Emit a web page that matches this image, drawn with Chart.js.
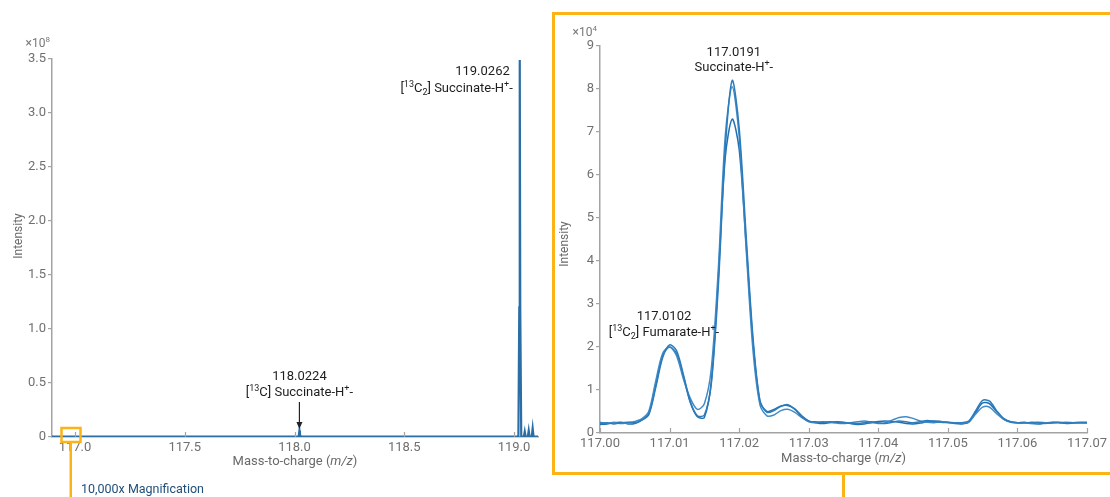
<!DOCTYPE html>
<html>
<head>
<meta charset="utf-8">
<script src="https://cdn.jsdelivr.net/npm/chart.js@4.4.1/dist/chart.umd.min.js"></script>
<style>
  html, body { margin: 0; padding: 0; background: #fff; }
  body { width: 1110px; height: 497px; position: relative; overflow: hidden; font-family: Roboto, "Noto Sans", sans-serif; }
  canvas { position: absolute; left: 0; top: 0; }
  #zoomBox { position: absolute; left: 552px; top: 12px; width: 640px; height: 457px; border: 3px solid #fbb316; }
  #zoomStem { position: absolute; left: 842px; top: 472px; width: 3px; height: 30px; background: #fbb316; }
</style>
</head>
<body>
<canvas id="overview" width="1110" height="497"></canvas>
<div id="zoomBox"></div>
<div id="zoomStem"></div>
<canvas id="detail" width="1110" height="497"></canvas>
<script>
// ---- Full spectrum (intensity in units of 1e8) ----
const overviewMz = [116.8952, 117.6, 117.99, 118.016, 118.0200, 118.0224, 118.0248, 118.029, 118.6,
  119.0200, 119.0240, 119.0262, 119.0284, 119.0330, 119.0450, 119.0490, 119.0530, 119.0630, 119.0670,
  119.0710, 119.0810, 119.0850, 119.0890, 119.0960, 119.1093];
const overviewIntensity = [0.004, 0.004, 0.004, 0.004, 0.02, 0.06, 0.02, 0.004, 0.004,
  0.004, 1.2, 3.49, 1.2, 0.004, 0.004, 0.05, 0.004, 0.004, 0.06,
  0.004, 0.004, 0.08, 0.004, 0.004, 0.004];
const overviewTicksX = [117.0, 117.5, 118.0, 118.5, 119.0];
const overviewTicksY = [0, 0.5, 1.0, 1.5, 2.0, 2.5, 3.0, 3.5];

// ---- 10,000x magnified window (intensity in units of 1e4), three overlaid scans ----
const detailMz = [117.000, 117.001, 117.002, 117.003, 117.004, 117.005, 117.006, 117.007, 117.008, 117.009,
  117.010, 117.011, 117.012, 117.013, 117.014, 117.015, 117.016, 117.017, 117.018, 117.019,
  117.020, 117.021, 117.022, 117.023, 117.024, 117.025, 117.026, 117.027, 117.028, 117.029,
  117.030, 117.031, 117.032, 117.033, 117.034, 117.035, 117.036, 117.037, 117.038, 117.039,
  117.040, 117.041, 117.042, 117.043, 117.044, 117.045, 117.046, 117.047, 117.048, 117.049,
  117.050, 117.051, 117.052, 117.053, 117.054, 117.055, 117.056, 117.057, 117.058, 117.059,
  117.060, 117.061, 117.062, 117.063, 117.064, 117.065, 117.066, 117.067, 117.068, 117.069,
  117.070];
const scanA = [0.22, 0.24, 0.21, 0.24, 0.25, 0.24, 0.30, 0.42, 1.05, 1.75,
  2.05, 1.92, 1.35, 0.72, 0.40, 0.42, 1.15, 3.40, 6.60, 8.20,
  7.10, 4.60, 2.20, 0.75, 0.48, 0.52, 0.62, 0.66, 0.55, 0.38,
  0.27, 0.26, 0.25, 0.26, 0.25, 0.24, 0.23, 0.22, 0.24, 0.26,
  0.24, 0.22, 0.25, 0.28, 0.26, 0.24, 0.26, 0.29, 0.27, 0.25,
  0.24, 0.23, 0.24, 0.28, 0.52, 0.76, 0.74, 0.52, 0.34, 0.26,
  0.24, 0.23, 0.25, 0.24, 0.22, 0.24, 0.25, 0.23, 0.24, 0.25,
  0.25];
const scanB = [0.25, 0.22, 0.25, 0.22, 0.24, 0.27, 0.33, 0.50, 1.20, 1.85,
  2.00, 1.80, 1.25, 0.80, 0.55, 0.68, 1.50, 3.80, 6.90, 8.05,
  6.90, 4.30, 1.90, 0.65, 0.40, 0.42, 0.52, 0.55, 0.48, 0.36,
  0.26, 0.24, 0.26, 0.25, 0.23, 0.22, 0.24, 0.26, 0.28, 0.25,
  0.22, 0.24, 0.30, 0.36, 0.38, 0.34, 0.28, 0.25, 0.24, 0.26,
  0.25, 0.24, 0.23, 0.26, 0.44, 0.60, 0.60, 0.45, 0.32, 0.25,
  0.23, 0.24, 0.23, 0.25, 0.24, 0.23, 0.24, 0.25, 0.24, 0.23,
  0.24];
const scanC = [0.20, 0.21, 0.24, 0.25, 0.21, 0.22, 0.30, 0.45, 1.10, 1.80,
  2.00, 1.85, 1.30, 0.70, 0.38, 0.36, 1.20, 3.60, 6.40, 7.30,
  6.60, 4.40, 2.10, 0.72, 0.50, 0.55, 0.63, 0.64, 0.56, 0.40,
  0.28, 0.24, 0.22, 0.24, 0.26, 0.25, 0.22, 0.20, 0.21, 0.24,
  0.27, 0.28, 0.27, 0.25, 0.22, 0.21, 0.23, 0.26, 0.28, 0.27,
  0.25, 0.22, 0.21, 0.25, 0.48, 0.70, 0.68, 0.50, 0.33, 0.26,
  0.24, 0.25, 0.22, 0.21, 0.23, 0.25, 0.24, 0.22, 0.23, 0.24,
  0.23];
const detailTicksX = [117.00, 117.01, 117.02, 117.03, 117.04, 117.05, 117.06, 117.07];
const detailTicksY = [0, 1, 2, 3, 4, 5, 6, 7, 8, 9];

// ---- Peak annotations ----
const overviewPeakMz = [118.0224, 119.0262];
const detailPeakMz = [117.0102, 117.0191];
const magnifiedMz = 117.0;

const FONT = 'Roboto, "DejaVu Sans", sans-serif';
const TICK_COLOR = '#707070';
const AXIS_COLOR = '#a3a3a3';
const LABEL_COLOR = '#1e1e1e';
const ORANGE = '#fbb316';

// Draws text made of plain, superscript and subscript runs.
function drawRich(ctx, segs, x, y, align, size, color) {
  const base = size + 'px ' + FONT;
  const small = Math.round(size * 0.66) + 'px ' + FONT;
  let total = 0;
  const widths = segs.map(s => {
    ctx.font = (s.sup || s.sub) ? small : base;
    const w = ctx.measureText(s.t).width;
    total += w;
    return w;
  });
  let cx = align === 'center' ? x - total / 2 : align === 'right' ? x - total : x;
  ctx.fillStyle = color;
  ctx.textAlign = 'left';
  ctx.textBaseline = 'middle';
  segs.forEach((s, i) => {
    ctx.font = (s.sup || s.sub) ? small : base;
    const dy = s.sup ? -size * 0.32 : s.sub ? size * 0.28 : 0;
    ctx.fillText(s.t, cx, y + dy);
    cx += widths[i];
  });
}

function drawMzTitle(ctx, cx, y) {
  const parts = [['Mass-to-charge (', ''], ['m/z', 'italic '], [')', '']];
  let total = 0;
  parts.forEach(p => { ctx.font = p[1] + '13px ' + FONT; p.w = ctx.measureText(p[0]).width; total += p.w; });
  let x = cx - total / 2;
  ctx.fillStyle = '#6a6a6a';
  ctx.textAlign = 'left';
  ctx.textBaseline = 'middle';
  parts.forEach(p => { ctx.font = p[1] + '13px ' + FONT; ctx.fillText(p[0], x, y); x += p.w; });
}

function drawIntensityTitle(ctx, x, y) {
  ctx.save();
  ctx.translate(x, y);
  ctx.rotate(-Math.PI / 2);
  ctx.font = '12px ' + FONT;
  ctx.fillStyle = '#6a6a6a';
  ctx.textAlign = 'center';
  ctx.textBaseline = 'middle';
  ctx.fillText('Intensity', 0, 0);
  ctx.restore();
}

function drawInwardTicks(ctx, scale, values, bottom) {
  ctx.strokeStyle = AXIS_COLOR;
  ctx.lineWidth = 1.2;
  values.forEach(v => {
    const px = Math.round(scale.getPixelForValue(v)) + 0.5;
    ctx.beginPath();
    ctx.moveTo(px, bottom);
    ctx.lineTo(px, bottom - 5);
    ctx.stroke();
  });
}

const overviewDecor = {
  id: 'overviewDecor',
  afterDraw(chart) {
    const { ctx, chartArea, scales } = chart;
    const xs = scales.x;
    ctx.save();
    drawInwardTicks(ctx, xs, overviewTicksX, chartArea.bottom);
    drawMzTitle(ctx, (chartArea.left + chartArea.right) / 2, chartArea.bottom + 25);
    drawIntensityTitle(ctx, 19, 236);
    drawRich(ctx, [{ t: '×10' }, { t: '8', sup: true }], 50, chartArea.top - 15, 'right', 12, '#777');

    // [13C] isotopologue label with arrow
    const p1 = xs.getPixelForValue(overviewPeakMz[0]);
    drawRich(ctx, [{ t: overviewPeakMz[0].toFixed(4) }], p1, 377, 'center', 13, LABEL_COLOR);
    drawRich(ctx, [{ t: '[' }, { t: '13', sup: true }, { t: 'C] Succinate-H' }, { t: '+', sup: true }, { t: '-' }],
      p1, 393, 'center', 13, LABEL_COLOR);
    ctx.strokeStyle = '#222';
    ctx.fillStyle = '#222';
    ctx.lineWidth = 1.2;
    ctx.beginPath();
    ctx.moveTo(p1, 402);
    ctx.lineTo(p1, 424);
    ctx.stroke();
    ctx.beginPath();
    ctx.moveTo(p1 - 3, 422);
    ctx.lineTo(p1 + 3, 422);
    ctx.lineTo(p1, 429);
    ctx.closePath();
    ctx.fill();

    // [13C2] isotopologue label
    const p2 = xs.getPixelForValue(overviewPeakMz[1]);
    drawRich(ctx, [{ t: overviewPeakMz[1].toFixed(4) }], p2 - 10, 72, 'right', 13, LABEL_COLOR);
    drawRich(ctx, [{ t: '[' }, { t: '13', sup: true }, { t: 'C' }, { t: '2', sub: true }, { t: '] Succinate-H' }, { t: '+', sup: true }, { t: '-' }],
      p2 - 7, 89, 'right', 13, LABEL_COLOR);

    // Magnified window marker
    const pm = xs.getPixelForValue(magnifiedMz);
    ctx.strokeStyle = ORANGE;
    ctx.lineWidth = 2.5;
    ctx.strokeRect(pm - 13.5, chartArea.bottom - 9, 19, 14);
    ctx.fillStyle = ORANGE;
    ctx.fillRect(pm - 5.5, chartArea.bottom + 5, 2.5, 60);
    drawRich(ctx, [{ t: '10,000x Magnification' }], pm + 6, 490, 'left', 12.5, '#1f4e79');
    ctx.restore();
  }
};

const detailDecor = {
  id: 'detailDecor',
  afterDraw(chart) {
    const { ctx, chartArea, scales } = chart;
    const xs = scales.x;
    ctx.save();
    drawInwardTicks(ctx, xs, detailTicksX, chartArea.bottom);
    drawMzTitle(ctx, (chartArea.left + chartArea.right) / 2, chartArea.bottom + 26);
    drawIntensityTitle(ctx, 565, 244);
    drawRich(ctx, [{ t: '×10' }, { t: '4', sup: true }], 597, chartArea.top - 13, 'right', 12, '#777');

    const f = xs.getPixelForValue(detailPeakMz[0]);
    drawRich(ctx, [{ t: detailPeakMz[0].toFixed(4) }], f - 7, 317, 'center', 13, LABEL_COLOR);
    drawRich(ctx, [{ t: '[' }, { t: '13', sup: true }, { t: 'C' }, { t: '2', sub: true }, { t: '] Fumarate-H' }, { t: '+', sup: true }, { t: '-' }],
      f - 7, 333, 'center', 13, LABEL_COLOR);

    const s = xs.getPixelForValue(detailPeakMz[1]);
    drawRich(ctx, [{ t: detailPeakMz[1].toFixed(4) }], s + 1, 53, 'center', 13, LABEL_COLOR);
    drawRich(ctx, [{ t: 'Succinate-H' }, { t: '+', sup: true }, { t: '-' }], s + 1, 68, 'center', 13, LABEL_COLOR);
    ctx.restore();
  }
};

function axisOptions(ticksX, ticksY, xMin, xMax, yMax, xFmt, yFmt, yWidth, xHeight) {
  return {
    x: {
      type: 'linear', min: xMin, max: xMax,
      afterBuildTicks: sc => { sc.ticks = ticksX.map(v => ({ value: v })); },
      afterFit: sc => { sc.height = xHeight; },
      grid: { display: true, drawOnChartArea: false, drawTicks: false },
      border: { color: AXIS_COLOR, width: 1.5 },
      ticks: { color: TICK_COLOR, font: { family: FONT, size: 13 }, padding: 3, maxRotation: 0, autoSkip: false, callback: xFmt }
    },
    y: {
      type: 'linear', min: 0, max: yMax,
      afterBuildTicks: sc => { sc.ticks = ticksY.map(v => ({ value: v })); },
      afterFit: sc => { sc.width = yWidth; },
      grid: { display: true, drawOnChartArea: false, drawTicks: true, tickLength: 4, color: AXIS_COLOR, lineWidth: 1.2 },
      border: { color: AXIS_COLOR, width: 1.5 },
      ticks: { color: TICK_COLOR, font: { family: FONT, size: 13 }, padding: 2, autoSkip: false, callback: yFmt }
    }
  };
}

new Chart(document.getElementById('overview'), {
  type: 'line',
  data: {
    datasets: [{
      data: overviewMz.map((x, i) => ({ x, y: overviewIntensity[i] })),
      borderColor: '#2b6ea6', borderWidth: 2.2, pointRadius: 0, tension: 0, fill: false
    }]
  },
  options: {
    responsive: false, animation: false, events: [],
    layout: { padding: { left: 0, right: 572, top: 59, bottom: 0 } },
    plugins: { legend: { display: false }, tooltip: { enabled: false } },
    scales: axisOptions(overviewTicksX, overviewTicksY, 116.8952, 119.1093, 3.5,
      v => v.toFixed(1), v => (v === 0 ? '0' : v.toFixed(1)), 52, 60)
  },
  plugins: [overviewDecor]
});

const scanColors = ['#2c7bbb', '#3f8bc8', '#2370b0'];
new Chart(document.getElementById('detail'), {
  type: 'line',
  data: {
    datasets: [scanA, scanB, scanC].map((scan, k) => ({
      data: detailMz.map((x, i) => ({ x, y: scan[i] })),
      borderColor: scanColors[k], borderWidth: 1.5, pointRadius: 0, tension: 0.3, fill: false
    }))
  },
  options: {
    responsive: false, animation: false, events: [],
    layout: { padding: { left: 0, right: 20, top: 46, bottom: 0 } },
    plugins: { legend: { display: false }, tooltip: { enabled: false } },
    scales: axisOptions(detailTicksX, detailTicksY, 117.0, 117.07, 9,
      v => v.toFixed(2), v => String(v), 600, 64)
  },
  plugins: [detailDecor]
});
</script>
</body>
</html>
